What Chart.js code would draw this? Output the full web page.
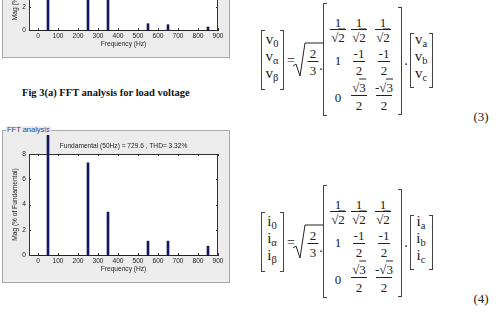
<!DOCTYPE html>
<html>
<head>
<meta charset="utf-8">
<script src="https://cdn.jsdelivr.net/npm/chart.js@4.4.1/dist/chart.umd.min.js"></script>
<style>
  html, body { margin: 0; padding: 0; background: #fff; }
  body { width: 499px; height: 313px; position: relative; overflow: hidden; font-family: "Liberation Serif", serif; }
  .panel { position: absolute; background: #ececec; border: 1px solid #a9a9a9; box-sizing: border-box; }
  .gb-label { position: absolute; font: 7.5px "Liberation Sans", Arial, sans-serif; color: #2a3f9a; background: #ececec; padding: 0 1px; line-height: 1; }
  canvas { position: absolute; }
  .caption { position: absolute; left: 22px; top: 88px; font: bold 10.5px "Liberation Serif", serif; color: #111; line-height: 1; white-space: nowrap; }
  .t { position: absolute; transform: translate(-50%, -50%); white-space: nowrap; color: #222; line-height: 1; font-family: "Liberation Serif", serif; }
  .t sub { font-size: 70%; vertical-align: -3px; }
  .br { position: absolute; box-sizing: border-box; border: 1px solid #444; }
  .ov { border-top: 1px solid #222; }
</style>
</head>
<body>

<div class="panel" style="left:2px; top:-20px; width:228px; height:78px;"></div>
<div class="panel" style="left:2px; top:130px; width:228px; height:153px;"></div>
<div class="gb-label" style="left:6px; top:126px;">FFT analysis</div>

<canvas id="fftVoltage" width="228" height="139" style="left:2px; top:-81px;"></canvas>
<canvas id="fftCurrent" width="228" height="148" style="left:2px; top:135px;"></canvas>

<div class="caption">Fig 3(a) FFT analysis for load voltage</div>

<script>
// ---------------- data ----------------
const freqs = [50, 250, 350, 550, 650, 850];              // Hz
const loadVoltageMag = [100, 5.6, 3.1, 0.55, 0.46, 0.26]; // % of fundamental
const loadCurrentMag = [100, 7.3, 3.4, 1.1, 1.1, 0.7];    // % of fundamental
const xTicks = [0, 100, 200, 300, 400, 500, 600, 700, 800, 900];
const yTicks = [0, 2, 4, 6, 8];
const currentTitle = 'Fundamental (50Hz) = 729.6 , THD= 3.32%';

const barColor = '#16165e';
const uiFont = '"Liberation Sans", Arial, sans-serif';
const uiSize = 6.6;

// white plot area + box with inward ticks, matlab style
const boxTicks = {
  id: 'boxTicks',
  beforeDraw(chart) {
    const { ctx, chartArea: a } = chart;
    ctx.save();
    ctx.fillStyle = '#fff';
    ctx.fillRect(a.left, a.top, a.right - a.left, a.bottom - a.top);
    ctx.restore();
  },
  beforeDatasetsDraw(chart) {
    const { ctx, chartArea: a, scales: { x, y } } = chart;
    ctx.save();
    ctx.strokeStyle = '#333';
    ctx.lineWidth = 1;
    ctx.beginPath();
    ctx.moveTo(a.left, a.top + 0.5); ctx.lineTo(a.right, a.top + 0.5);
    ctx.moveTo(a.right - 0.5, a.top); ctx.lineTo(a.right - 0.5, a.bottom);
    xTicks.forEach(v => {
      const px = Math.round(x.getPixelForValue(v)) + 0.5;
      ctx.moveTo(px, a.bottom); ctx.lineTo(px, a.bottom - 2);
      ctx.moveTo(px, a.top); ctx.lineTo(px, a.top + 2);
    });
    yTicks.forEach(v => {
      const py = Math.round(y.getPixelForValue(v)) + 0.5;
      ctx.moveTo(a.left, py); ctx.lineTo(a.left + 2, py);
      ctx.moveTo(a.right, py); ctx.lineTo(a.right - 2, py);
    });
    ctx.stroke();
    ctx.restore();
  }
};

function fftChart(id, mags, title) {
  return new Chart(document.getElementById(id), {
    type: 'bar',
    data: {
      datasets: [{
        data: freqs.map((f, i) => ({ x: f, y: mags[i] })),
        backgroundColor: barColor,
        barThickness: 2,
        clip: false
      }]
    },
    options: {
      responsive: false,
      animation: false,
      events: [],
      layout: { padding: { top: title ? 0 : 19, right: 12, left: 0, bottom: 0 } },
      plugins: {
        legend: { display: false },
        tooltip: { enabled: false },
        title: {
          display: !!title,
          text: title,
          fullSize: false,
          color: '#222',
          font: { family: uiFont, size: uiSize, weight: 'normal', lineHeight: 1 },
          padding: { top: 8, bottom: 4.4 }
        }
      },
      scales: {
        x: {
          type: 'linear',
          offset: false,
          min: -45,
          max: 900,
          afterBuildTicks: s => { s.ticks = xTicks.map(v => ({ value: v })); },
          afterFit: s => { s.height = 28; s.paddingLeft = 0; s.paddingRight = 0; },
          grid: { display: false, offset: false, drawTicks: false, tickLength: 0 },
          border: { display: true, color: '#222', dash: [3, 2] },
          ticks: { color: '#222', padding: 2.5, maxRotation: 0, autoSkip: false, font: { family: uiFont, size: uiSize } },
          title: { display: true, text: 'Frequency (Hz)', color: '#222', padding: { top: 0, bottom: 10 }, font: { family: uiFont, size: uiSize } }
        },
        y: {
          min: 0,
          max: 8,
          afterBuildTicks: s => { s.ticks = yTicks.map(v => ({ value: v })); },
          afterFit: s => { s.width = 27; s.paddingTop = 0; s.paddingBottom = 0; },
          grid: { display: false, drawTicks: false, tickLength: 0 },
          border: { display: true, color: '#333' },
          ticks: { color: '#222', padding: 3, font: { family: uiFont, size: uiSize } },
          title: { display: true, text: 'Mag (% of Fundamental)', color: '#222', padding: { top: 9, bottom: 0 }, font: { family: uiFont, size: uiSize } }
        }
      }
    },
    plugins: [boxTicks]
  });
}

fftChart('fftVoltage', loadVoltageMag, null);
fftChart('fftCurrent', loadCurrentMag, currentTitle);

// ---------------- equations (3) and (4) ----------------
const body = document.body;
let svgPaths = '';

function txt(html, x, y, size) {
  const d = document.createElement('div');
  d.className = 't';
  d.style.left = x + 'px';
  d.style.top = y + 'px';
  d.style.fontSize = (size || 15) + 'px';
  d.innerHTML = html;
  body.appendChild(d);
}
function lbr(x, top, bottom) {
  const d = document.createElement('div');
  d.className = 'br';
  d.style.cssText = `left:${x}px;top:${top}px;width:4px;height:${bottom - top}px;border-right:none;`;
  body.appendChild(d);
}
function rbr(x, top, bottom) {
  const d = document.createElement('div');
  d.className = 'br';
  d.style.cssText = `left:${x - 4}px;top:${top}px;width:4px;height:${bottom - top}px;border-left:none;`;
  body.appendChild(d);
}
function frac(num, den, cx, lineY, w, gap, size) {
  txt(num, cx, lineY - gap, size);
  txt(den, cx, lineY + gap + 1, size);
  svgPaths += `<path d="M${cx - w / 2},${lineY + 0.5} H${cx + w / 2}"/>`;
}
const rt = d => '√<span class="ov">' + d + '</span>';

function equation(dy, s, label) {
  lbr(261, 212 + dy, 272 + dy);
  rbr(284, 212 + dy, 272 + dy);
  txt(s + '<sub>0</sub>', 272, 223 + dy);
  txt(s + '<sub>α</sub>', 272, 240 + dy);
  txt(s + '<sub>β</sub>', 272, 257 + dy);
  txt('=', 291, 243 + dy, 14);
  svgPaths += `<path d="M293,${248 + dy} L296,${246 + dy} L300,${258 + dy} L305,${225 + dy} H323"/>`;
  frac('2', '3', 313, 243 + dy, 11, 8, 13);
  txt('.', 321, 248 + dy, 14);
  lbr(323, 185 + dy, 298 + dy);
  rbr(402, 189 + dy, 297 + dy);
  // row 1
  frac('1', rt('2'), 338, 211 + dy, 16, 7, 13);
  frac('1', rt('2'), 359, 211 + dy, 16, 7, 13);
  frac('1', rt('2'), 383, 211 + dy, 16, 7, 13);
  // row 2
  txt('1', 338, 242 + dy, 13);
  frac('-1', '2', 359, 243 + dy, 12, 8, 13);
  frac('-1', '2', 384, 243 + dy, 12, 8, 13);
  // row 3
  txt('0', 338, 279 + dy, 13);
  frac(rt('3'), '2', 359, 277 + dy, 16, 8.5, 13);
  frac('-' + rt('3'), '2', 384, 277 + dy, 16, 8.5, 13);
  txt('.', 406, 243 + dy, 14);
  lbr(410, 215 + dy, 270 + dy);
  rbr(433, 215 + dy, 270 + dy);
  txt(s + '<sub>a</sub>', 421, 223 + dy);
  txt(s + '<sub>b</sub>', 421, 240 + dy);
  txt(s + '<sub>c</sub>', 421, 257 + dy);
  txt(label, 481, 298 + dy, 13);
}

equation(-182, 'v', '(3)');
equation(0, 'i', '(4)');

const svg = document.createElementNS('http://www.w3.org/2000/svg', 'svg');
svg.setAttribute('width', '499');
svg.setAttribute('height', '313');
svg.style.cssText = 'position:absolute;left:0;top:0;pointer-events:none;';
svg.innerHTML = `<g fill="none" stroke="#222" stroke-width="1">${svgPaths}</g>`;
body.appendChild(svg);
</script>
</body>
</html>
